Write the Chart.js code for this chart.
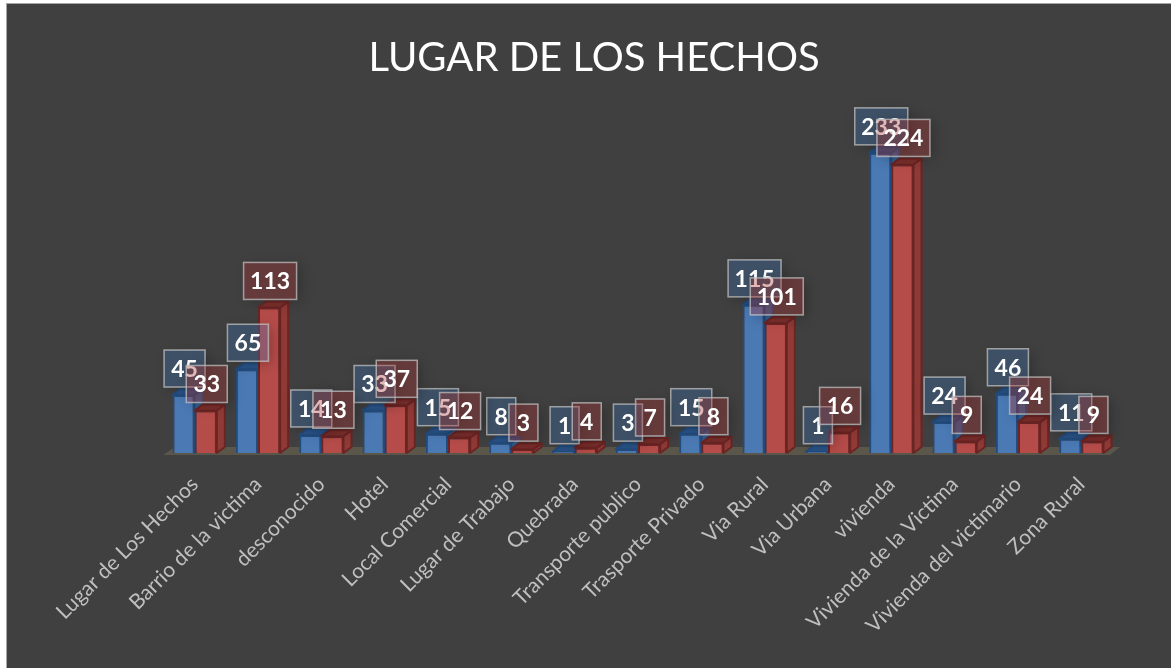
<!DOCTYPE html>
<html>
<head>
<meta charset="utf-8">
<script src="https://cdn.jsdelivr.net/npm/chart.js@4"></script>
<style>
  html, body { margin: 0; padding: 0; background: #fff; }
  #wrap { position: absolute; left: 0; top: 0; width: 1171px; height: 668px; }
</style>
</head>
<body>
<div id="wrap"><canvas id="myChart" width="1171" height="668"></canvas></div>
<script>
const categories = ["Lugar de Los Hechos", "Barrio de la victima", "desconocido", "Hotel", "Local Comercial",
    "Lugar de Trabajo", "Quebrada", "Transporte publico", "Trasporte Privado", "Via Rural", "Via Urbana",
    "vivienda", "Vivienda de la Victima", "Vivienda del victimario", "Zona Rural"];
const serieAzul = [45, 65, 14, 33, 15, 8, 1, 3, 15, 115, 1, 233, 24, 46, 11];
const serieRoja = [33, 113, 13, 37, 12, 3, 4, 7, 8, 101, 16, 224, 9, 24, 9];
const titulo = "LUGAR DE LOS HECHOS";

const depthX = 8;
const depthY = 6;

const caras = [
    { side: "#33608f", top: "#2a5488", line: "#234c7e" },
    { side: "#8f3a37", top: "#7c2f2c", line: "#6b2523" }
];

// ==== fondo del grafico ====
const fondoPlugin = {
    id: "fondo",
    beforeDraw(chart) {
        const c = chart.ctx;
        c.save();
        c.fillStyle = "#ffffff";
        c.fillRect(0, 0, chart.width, chart.height);
        c.fillStyle = "#404040";
        c.fillRect(6, 3, chart.width - 6, chart.height - 3);
        c.fillStyle = "#a6a6a6";
        c.fillRect(6, 3, 1, chart.height - 3);
        c.fillRect(6, 3, chart.width - 6, 1);
        // piso
        const a = chart.chartArea;
        c.fillStyle = "#5a564a";
        c.beginPath();
        c.moveTo(a.left, a.bottom + 2);
        c.lineTo(a.right - 3, a.bottom + 2);
        c.lineTo(a.right + 7, a.bottom - 6);
        c.lineTo(a.left + 12, a.bottom - 6);
        c.closePath();
        c.fill();
        c.restore();
    }
};

// ==== caras laterales de las barras ====
const dibujarCaras = (chart, index) => {
    const c = chart.ctx;
    const estilo = caras[index];
    c.save();
    c.lineWidth = 2;
    c.lineJoin = "round";
    c.strokeStyle = estilo.line;
    chart.getDatasetMeta(index).data.forEach(b => {
        const r = b.x + b.width / 2;
        const l = b.x - b.width / 2;
        c.fillStyle = estilo.side;
        c.beginPath();
        c.moveTo(r, b.y);
        c.lineTo(r + depthX, b.y - depthY);
        c.lineTo(r + depthX, b.base - depthY);
        c.lineTo(r, b.base);
        c.closePath();
        c.fill();
        c.stroke();
        c.fillStyle = estilo.top;
        c.beginPath();
        c.moveTo(l, b.y);
        c.lineTo(l + depthX, b.y - depthY);
        c.lineTo(r + depthX, b.y - depthY);
        c.lineTo(r, b.y);
        c.closePath();
        c.fill();
        c.stroke();
    });
    c.restore();
};

const barra3dPlugin = {
    id: "barra3d",
    beforeDatasetDraw(chart, args) {
        if (args.index === 0) dibujarCaras(chart, 0);
    },
    // chart.js pinta el primer dataset encima, la serie roja tiene que ir despues
    afterDatasetsDraw(chart) {
        dibujarCaras(chart, 1);
        chart.getDatasetMeta(1).controller.draw();
    }
};

// ==== etiquetas de valores ====
const etiquetasPlugin = {
    id: "etiquetas",
    afterDatasetsDraw(chart) {
        const c = chart.ctx;
        const fondos = ["rgba(60,120,190,0.3)", "rgba(170,50,50,0.35)"];
        c.save();
        c.font = "bold 23px Lato";
        c.textAlign = "center";
        c.textBaseline = "middle";
        chart.data.datasets.forEach((ds, i) => {
            chart.getDatasetMeta(i).data.forEach((b, k) => {
                const txt = String(ds.data[k]);
                const w = txt.length === 3 ? 53 : (txt.length === 2 ? 41 : 29);
                const h = 37;
                const x = b.x + 1 - w / 2;
                const y = b.y - 8 - h;
                // la sombra solo por fuera de la caja
                c.save();
                c.beginPath();
                c.rect(0, 0, chart.width, chart.height);
                c.rect(x, y, w, h);
                c.clip("evenodd");
                c.shadowColor = "rgba(0,0,0,0.22)";
                c.shadowBlur = 12;
                c.shadowOffsetX = 4;
                c.shadowOffsetY = 3;
                c.fillStyle = "#000000";
                c.fillRect(x, y, w, h);
                c.restore();
                c.fillStyle = fondos[i];
                c.fillRect(x, y, w, h);
                c.strokeStyle = "rgba(205,205,205,0.7)";
                c.lineWidth = 1.5;
                c.strokeRect(x, y, w, h);
                c.fillStyle = "#ffffff";
                c.fillText(txt, x + w / 2, y + h / 2 + 1);
            });
        });
        c.restore();
    }
};

const myChart = new Chart(document.getElementById("myChart"), {
    type: "bar",
    data: {
        labels: categories,
        datasets: [
            { label: "Serie 1", data: serieAzul, backgroundColor: "#4a79b4", borderColor: "#234c7e", borderWidth: 2 },
            { label: "Serie 2", data: serieRoja, backgroundColor: "#b54c49", borderColor: "#6b2523", borderWidth: 2 }
        ]
    },
    options: {
        responsive: false,
        animation: false,
        layout: { padding: { left: 75, right: 58, top: 0, bottom: 0 } },
        plugins: {
            legend: { display: false },
            tooltip: { enabled: false },
            title: {
                display: true,
                text: titulo,
                color: "#ffffff",
                font: { family: "Lato", size: 40, weight: "normal" },
                padding: { top: 34, bottom: 0 }
            }
        },
        scales: {
            x: {
                grid: { display: false },
                border: { display: false },
                afterFit(scale) {
                    scale.height = 215;
                    scale.paddingLeft = 0;
                    scale.paddingRight = 0;
                },
                ticks: {
                    color: "#bfbfbf",
                    font: { family: "Lato", size: 21 },
                    autoSkip: false,
                    minRotation: 45,
                    maxRotation: 45,
                    padding: 11
                }
            },
            y: {
                min: 0,
                max: 288,
                grid: { display: false },
                border: { display: false },
                ticks: { display: false },
                afterFit(scale) {
                    scale.width = 88;
                }
            }
        },
        datasets: { bar: { categoryPercentage: 0.7, barPercentage: 1 } }
    },
    plugins: [fondoPlugin, barra3dPlugin, etiquetasPlugin]
});
</script>
</body>
</html>
